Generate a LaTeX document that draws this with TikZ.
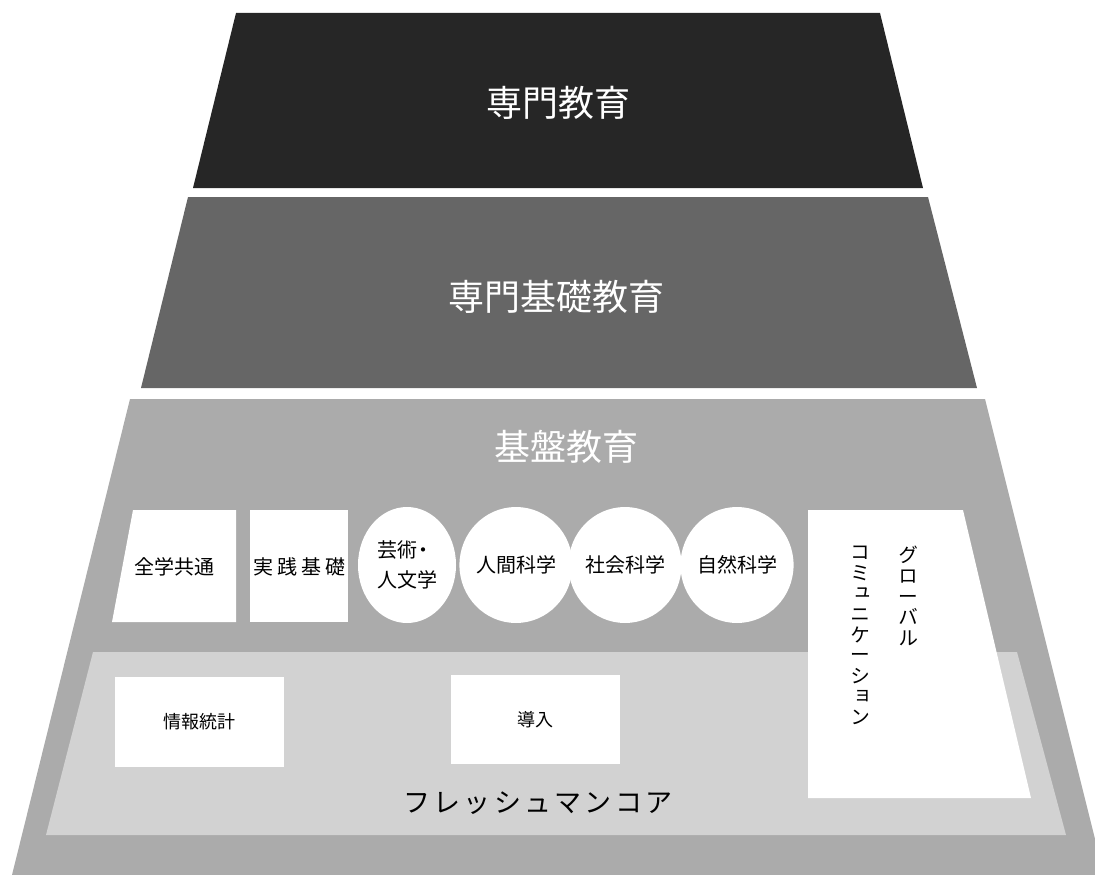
\documentclass[tikz,border=0pt]{standalone}
\usepackage{fontspec}
\setmainfont{Noto Sans CJK JP}
\newfontfamily\cjkv[RawFeature=+vert]{Noto Sans CJK JP}
\usetikzlibrary{shapes.geometric}
\definecolor{tierA}{HTML}{262626}
\definecolor{tierB}{HTML}{666666}
\definecolor{tierC}{HTML}{ABABAB}
\definecolor{tierD}{HTML}{D2D2D2}
\newcommand{\vbar}{\rotatebox[origin=c]{-90}{ー}}
\begin{document}
\begin{tikzpicture}[x=1pt,y=-1pt,
  titletext/.style={text=white,font=\fontsize{36}{42}\selectfont,inner sep=0pt},
  boxtext/.style={text=black,font=\fontsize{20}{30}\selectfont,inner sep=0pt,align=center},
  oval/.style={ellipse,fill=white,minimum width=98pt,minimum height=116pt,inner sep=0pt,
               font=\fontsize{20}{30}\selectfont,align=center},
  vtext/.style={anchor=north,inner sep=0pt,align=center,font=\cjkv\fontsize{20}{20.6}\selectfont},
  whitebox/.style={fill=white}]
\useasboundingbox (0,0) rectangle (1095,875);
\clip (0,0) rectangle (1095,875);
% tiers
\fill[tierA] (236,13) -- (880,13) -- (923,188) -- (193,188) -- cycle;
\fill[tierB] (188,197) -- (928,197) -- (977,388) -- (141,388) -- cycle;
\fill[tierC] (130,399) -- (985,399) -- (1104,875) -- (12,875) -- cycle;
\fill[tierD] (93,652) -- (1017,652) -- (1066,835) -- (46,835) -- cycle;
\node[titletext] (t1) at (558,103) {専門教育};
\node[titletext] (t2) at (556,297) {専門基礎教育};
\node[titletext] (t3) at (566,447) {基盤教育};
% upper row
\fill[whitebox] (133,510) -- (236,510) -- (236,622) -- (112,622) -- cycle;
\node[boxtext] (zengaku) at (174,567) {全学共通};
\fill[whitebox] (250,510) rectangle (348,622);
\node[boxtext] (jissen) at (299,567) {実\kern4pt 践\kern4pt 基\kern4pt 礎};
\node[oval,align=left] (geijutsu) at (407,565) {芸術\kern-4pt・\\人文学};
\node[oval] (ningen) at (516,565) {人間科学};
\node[oval] (shakai) at (625,565) {社会科学};
\node[oval] (shizen) at (737,565) {自然科学};
% global communication
\fill[whitebox] (808,510) -- (963,510) -- (1031,798) -- (808,798) -- cycle;
\node[vtext] (glob) at (908,546) {グ\\ロ\\\vbar\\バ\\ル};
\node[vtext] (comm) at (860,546) {コ\\ミ\\ュ\\ニ\\ケ\\\vbar\\シ\\ョ\\ン};
% freshman core
\fill[whitebox] (115,677) rectangle (284,767);
\node[boxtext,font=\fontsize{18}{24}\selectfont] (joho) at (199,722) {情報統計};
\fill[whitebox] (451,675) rectangle (620,764);
\node[boxtext,font=\fontsize{18}{24}\selectfont] (donyu) at (535,720) {導入};
\node[boxtext,font=\fontsize{27}{32}\selectfont] (fresh) at (538,803)
  {\addfontfeature{LetterSpace=12}フレッシュマンコア};
\end{tikzpicture}
\end{document}
